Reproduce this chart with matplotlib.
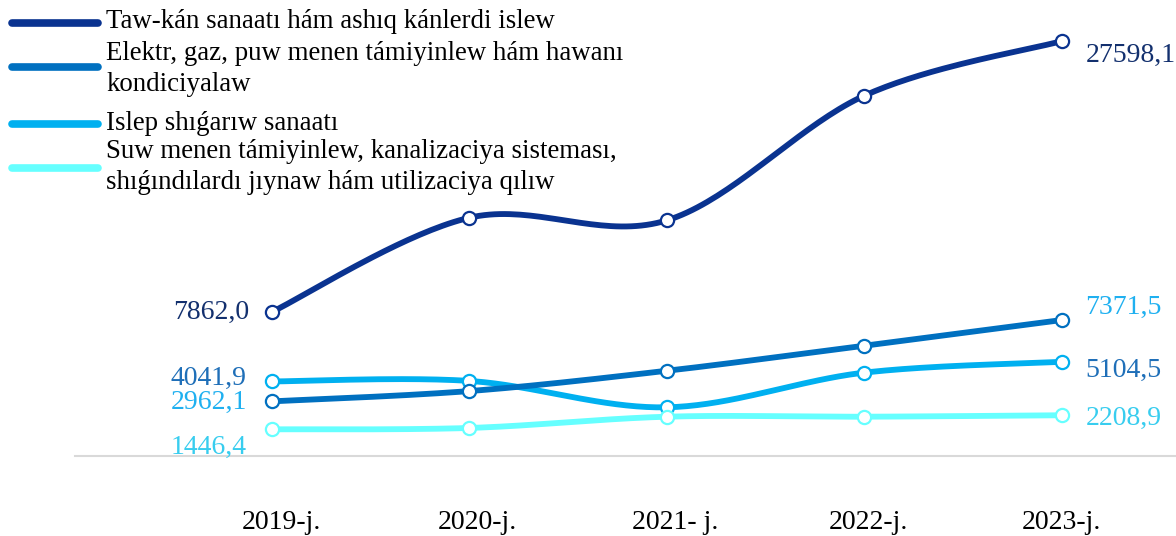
import numpy as np
import matplotlib.pyplot as plt
import matplotlib.transforms as mtransforms
from matplotlib.lines import Line2D

plt.rcParams['font.family'] = ['Liberation Serif', 'DejaVu Serif']

# data
years = ["2019-j.", "2020-j.", "2021- j.", "2022-j.", "2023-j."]
names = ["Taw-kán sanaatı hám ashıq kánlerdi islew",
         "Elektr, gaz, puw menen támiyinlew hám hawanı\nkondiciyalaw",
         "Islep shıǵarıw sanaatı",
         "Suw menen támiyinlew, kanalizaciya sisteması,\nshıǵındılardı jıynaw hám utilizaciya qılıw"]
taw = [7862.0, 14730, 14540, 23620, 27598.1]
elektr = [2962.1, 3520, 4620, 5980, 7371.5]
islep = [4041.9, 4070, 2640, 4520, 5104.5]
suw = [1446.4, 1520, 2130, 2130, 2208.9]

colors = ['#0a3390', '#0070c0', '#00b0f0', '#66ffff']
lab_navy = '#13306e'
lab_mid = '#1f6fb8'
lab_light = '#1fb0f0'
lab_cyan = '#38cdef'

W, H = 1176, 536


def smooth(x, y, n=40):
    # excel-like smoothed line (catmull-rom as bezier)
    pts = np.column_stack([x, y]).astype(float)
    p = np.vstack([pts[0], pts, pts[-1]])
    out = []
    t = np.linspace(0, 1, n)[:, None]
    for i in range(1, len(p) - 2):
        p0, p1, p2, p3 = p[i-1], p[i], p[i+1], p[i+2]
        c1 = p1 + (p2 - p0) / 6
        c2 = p2 - (p3 - p1) / 6
        seg = (1-t)**3*p1 + 3*(1-t)**2*t*c1 + 3*(1-t)*t**2*c2 + t**3*p2
        out.append(seg)
    arr = np.vstack(out)
    return arr[:, 0], arr[:, 1]


def fmt(v):
    return f"{v:.1f}".replace('.', ',')


fig = plt.figure(figsize=(W/100, H/100), dpi=100)
ax = fig.add_axes([75/W, 1 - 456/H, 1 - 75/W, 456/H])
ax2 = ax.twinx()

x = np.arange(len(years))
lw = 4.2
ms = 9.5

def draw(a, vals, c, z):
    xs, ys = smooth(x, vals)
    a.plot(xs, ys, color=c, lw=lw, solid_capstyle='round', zorder=z)
    a.plot(x, vals, ls='none', marker='o', ms=ms, mfc='white', mec=c, mew=1.6, zorder=z + 0.5)

draw(ax, islep, colors[2], 2)
draw(ax, elektr, colors[1], 3)
draw(ax, suw, colors[3], 4)
draw(ax2, taw, colors[0], 5)

ax.set_xlim(-0.996, 4.578)
ax.set_ylim(0, 24720)
ax2.set_ylim(-2622, 30588)

for a in (ax, ax2):
    for s in a.spines.values():
        s.set_visible(False)
    a.set_yticks([])
ax.spines['bottom'].set_visible(True)
ax.spines['bottom'].set_color('#d9d9d9')
ax.spines['bottom'].set_linewidth(1.5)
ax.set_xticks(x)
ax.set_xticklabels(years, fontsize=20)
ax.tick_params(axis='x', length=0, pad=39)
ax2.tick_params(axis='x', length=0)
# category labels sit a little right of the points in the original
shifts = [10, 8, 8, 4, 0]
for tl, dx in zip(ax.get_xticklabels(), shifts):
    tl.set_transform(tl.get_transform() + mtransforms.ScaledTranslation(dx/100, 0, fig.dpi_scale_trans))

fs = 20
# value labels (offsets in points)
def lab(a, xi, v, dx, dy, c, ha):
    a.annotate(fmt(v), (xi, v), xytext=(dx, dy), textcoords='offset points',
               ha=ha, va='center', fontsize=fs, color=c)

lab(ax2, 0, taw[0], -16, 0, lab_navy, 'right')
lab(ax2, 4, taw[4], 17, -10, lab_navy, 'left')
lab(ax, 0, islep[0], -18, 2, lab_mid, 'right')
lab(ax, 0, elektr[0], -18, -1, lab_light, 'right')
lab(ax, 0, suw[0], -18, -13, lab_cyan, 'right')
lab(ax, 4, elektr[4], 17, 9, lab_light, 'left')
lab(ax, 4, islep[4], 17, -6, lab_mid, 'left')
lab(ax, 4, suw[4], 17, -2, lab_cyan, 'left')

# legend drawn by hand, pixel positions
handle_y = [23, 67, 124, 168]
text_y = [21, 69, 123, 167]
for c, hy, ty, name in zip(colors, handle_y, text_y, names):
    fig.add_artist(Line2D([12/W, 98/W], [1 - hy/H, 1 - hy/H], color=c, lw=5.5,
                          solid_capstyle='round', transform=fig.transFigure))
    fig.text(106/W, 1 - ty/H, name, fontsize=19.4, va='center', ha='left',
             linespacing=1.3, color='black')

fig.savefig('out.png', dpi=100)
